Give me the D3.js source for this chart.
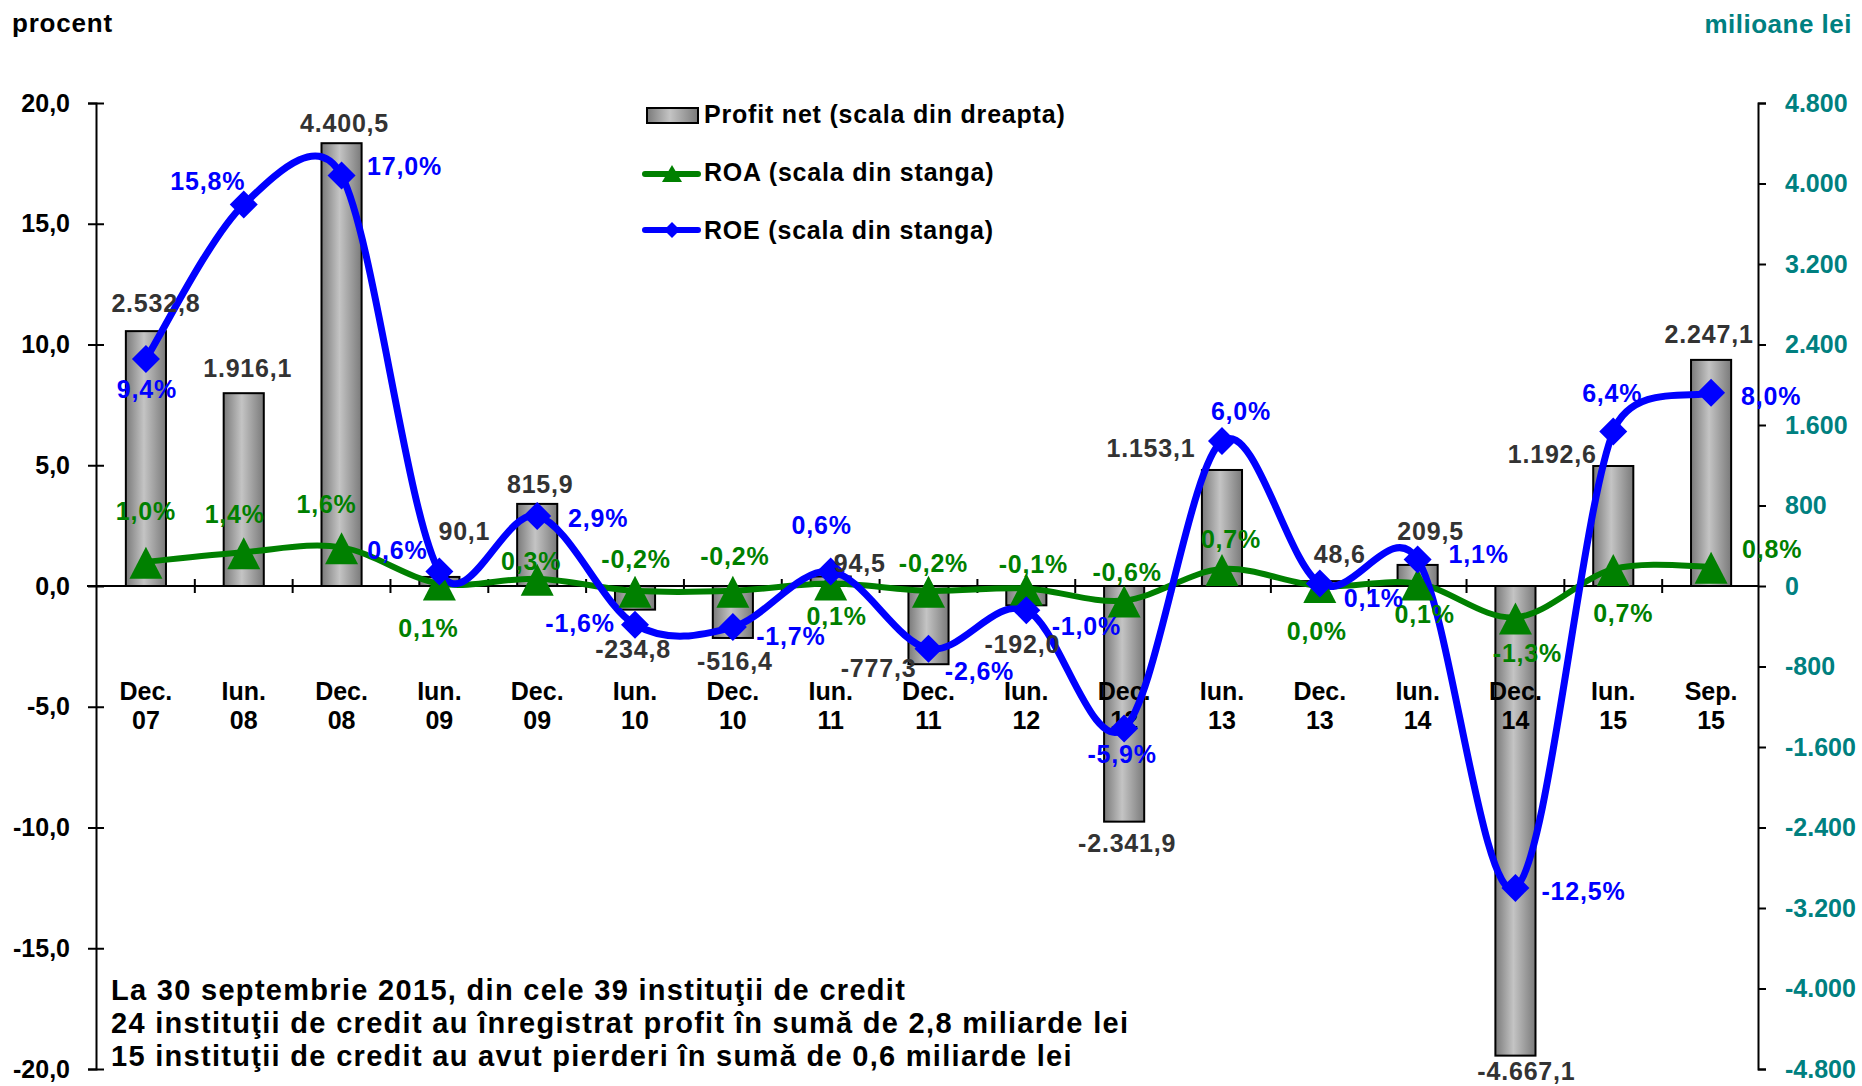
<!DOCTYPE html>
<html>
<head>
<meta charset="utf-8">
<style>
  body { margin: 0; background: #ffffff; }
  svg text { font-family: "Liberation Sans", Arial, sans-serif; font-weight: bold; }
</style>
</head>
<body>
<div id="chart"></div>
<script src="https://d3js.org/d3.v7.min.js"></script>
<script>
// data
var categories = ["Dec. 07", "Iun. 08", "Dec. 08", "Iun. 09", "Dec. 09", "Iun. 10", "Dec. 10", "Iun. 11", "Dec. 11",
                  "Iun. 12", "Dec. 12", "Iun. 13", "Dec. 13", "Iun. 14", "Dec. 14", "Iun. 15", "Sep. 15"];
var profitNet = [2532.8, 1916.1, 4400.5, 90.1, 815.9, -234.8, -516.4, 94.5, -777.3,
                 -192.0, -2341.9, 1153.1, 48.6, 209.5, -4667.1, 1192.6, 2247.1];
var roa = [1.0, 1.4, 1.6, 0.1, 0.3, -0.2, -0.2, 0.1, -0.2, -0.1, -0.6, 0.7, 0.0, 0.1, -1.3, 0.7, 0.8];
var roe = [9.4, 15.8, 17.0, 0.6, 2.9, -1.6, -1.7, 0.6, -2.6, -1.0, -5.9, 6.0, 0.1, 1.1, -12.5, 6.4, 8.0];
var leftTicks = [-20, -15, -10, -5, 0, 5, 10, 15, 20];
var rightTicks = [-4800, -4000, -3200, -2400, -1600, -800, 0, 800, 1600, 2400, 3200, 4000, 4800];
var noteLines = [
  "La 30 septembrie 2015, din cele 39 instituţii de credit",
  "24 instituţii de credit au înregistrat profit în sumă de 2,8 miliarde lei",
  "15 instituţii de credit au avut pierderi în sumă de 0,6 miliarde lei"
];

// label placement (dx, dy of the text from its point), as in the original
var profitLabelOffset = [[10,-19],[4,-16],[3,-11],[25,-37],[3,-11],[-2,48],[2,32],[29,-4],[-50,13],
                         [-4,48],[3,30],[-71,-13],[20,-18],[13,-25],[11,24],[-61,-3],[-2,-17]];
var roeLabelOffset = [[1,39],[-36,-14],[63,0],[-42,-13],[61,11],[-55,7],[58,18],[-9,-38],[51,31],
                      [60,25],[-2,35],[19,-21],[54,23],[61,4],[68,12],[-1,-29],[60,12]];
var roaLabelOffset = [[0,-42],[-9,-29],[-15,-34],[-11,53],[-6,-9],[1,-23],[2,-26],[6,41],[5,-19],
                      [7,-15],[3,-19],[9,-21],[-3,54],[7,39],[12,45],[10,53],[61,-9]];

var W = 1862, H = 1086;
var plotLeft = 97, plotRight = 1760, plotTop = 103, plotBottom = 1069;

var ro = d3.formatLocale({decimal: ",", thousands: ".", grouping: [3], currency: ["", ""], minus: "-"});
var f1 = ro.format(",.1f"), f0 = ro.format(",.0f");

// smoothed line the way the spreadsheet draws it: bezier with 1/6 tangents,
// control arm never longer than half of the segment
function smoothCurve(context) {
  var pts;
  function ctrl(p, dx, dy, seg, sign) {
    dx /= 6; dy /= 6;
    var len = Math.hypot(dx, dy), lim = 0.5 * seg;
    if (len > lim) { dx *= lim / len; dy *= lim / len; }
    return [p[0] + sign * dx, p[1] + sign * dy];
  }
  return {
    areaStart: function() {}, areaEnd: function() {},
    lineStart: function() { pts = []; },
    point: function(x, y) { pts.push([+x, +y]); },
    lineEnd: function() {
      var n = pts.length;
      if (!n) return;
      context.moveTo(pts[0][0], pts[0][1]);
      for (var i = 0; i < n - 1; i++) {
        var p0 = pts[Math.max(i - 1, 0)], p1 = pts[i], p2 = pts[i + 1], p3 = pts[Math.min(i + 2, n - 1)];
        var seg = Math.hypot(p2[0] - p1[0], p2[1] - p1[1]);
        var c1 = ctrl(p1, p2[0] - p0[0], p2[1] - p0[1], seg, 1);
        var c2 = ctrl(p2, p3[0] - p1[0], p3[1] - p1[1], seg, -1);
        context.bezierCurveTo(c1[0], c1[1], c2[0], c2[1], p2[0], p2[1]);
      }
    }
  };
}

var svg = d3.select("#chart").append("svg")
    .attr("width", W).attr("height", H)
    .style("background", "#ffffff");

var defs = svg.append("defs");
var grad = defs.append("linearGradient").attr("id", "barGrad")
    .attr("x1", 0).attr("x2", 1).attr("y1", 0).attr("y2", 0);
grad.selectAll("stop")
  .data([{o: "0%", c: "#7a7a7a"}, {o: "45%", c: "#c4c4c4"}, {o: "100%", c: "#7a7a7a"}])
  .enter().append("stop")
    .attr("offset", function(d) { return d.o; })
    .attr("stop-color", function(d) { return d.c; });

var x = d3.scaleBand().domain(categories)
    .range([plotLeft, plotRight])
    .paddingInner(0.59).paddingOuter(0.295);
var cx = function(i) { return x(categories[i]) + x.bandwidth() / 2; };

var yL = d3.scaleLinear().domain([-20, 20]).range([plotBottom, plotTop]);
var yR = d3.scaleLinear().domain([-4800, 4800]).range([plotBottom, plotTop]);

// bars (right scale)
svg.append("g").selectAll("rect")
  .data(profitNet)
  .enter().append("rect")
    .attr("x", function(d, i) { return x(categories[i]); })
    .attr("width", x.bandwidth())
    .attr("y", function(d) { return yR(Math.max(0, d)); })
    .attr("height", function(d) { return Math.abs(yR(d) - yR(0)); })
    .attr("fill", "url(#barGrad)")
    .attr("stroke", "#000")
    .attr("stroke-width", 2);

// left axis
var axL = svg.append("g")
    .attr("transform", "translate(" + (plotLeft - 1) + ",0)")
    .call(d3.axisLeft(yL).tickValues(leftTicks).tickFormat(f1).tickSize(8).tickPadding(18));
axL.select(".domain").attr("stroke", "#000").attr("stroke-width", 2);
axL.selectAll(".tick line").attr("x1", 8).attr("x2", -8).attr("stroke-width", 2);
axL.selectAll(".tick text").attr("font-size", 25).attr("fill", "#000")
    .style("font-family", "'Liberation Sans', Arial, sans-serif").style("font-weight", "bold");

// right axis
var axR = svg.append("g")
    .attr("transform", "translate(" + (plotRight - 2) + ",0)")
    .call(d3.axisRight(yR).tickValues(rightTicks).tickFormat(f0).tickSize(8).tickPadding(19));
axR.select(".domain").attr("stroke", "#000").attr("stroke-width", 2);
axR.selectAll(".tick line").attr("stroke-width", 2);
axR.selectAll(".tick text").attr("font-size", 25).attr("fill", "#008080")
    .style("font-family", "'Liberation Sans', Arial, sans-serif").style("font-weight", "bold");

// category axis at zero
var y0 = yL(0);
svg.append("line")
    .attr("x1", plotLeft - 10).attr("x2", plotRight - 2)
    .attr("y1", y0).attr("y2", y0)
    .attr("stroke", "#000").attr("stroke-width", 2);
svg.append("g").selectAll("line")
  .data(categories.slice(1))
  .enter().append("line")
    .attr("x1", function(d) { return x(d) - x.step() * x.paddingInner() / 2; })
    .attr("x2", function(d) { return x(d) - x.step() * x.paddingInner() / 2; })
    .attr("y1", y0 - 7).attr("y2", y0 + 7)
    .attr("stroke", "#000").attr("stroke-width", 2);

var catLbl = svg.append("g").selectAll("text")
  .data(categories)
  .enter().append("text")
    .attr("text-anchor", "middle")
    .attr("font-size", 25)
    .attr("fill", "#000");
catLbl.append("tspan")
    .attr("x", function(d) { return x(d) + x.bandwidth() / 2; })
    .attr("y", y0 + 114)
    .text(function(d) { return d.split(" ")[0]; });
catLbl.append("tspan")
    .attr("x", function(d) { return x(d) + x.bandwidth() / 2; })
    .attr("y", y0 + 143)
    .text(function(d) { return d.split(" ")[1]; });

// lines (left scale)
var smooth = d3.line()
    .x(function(d, i) { return cx(i); })
    .y(function(d) { return yL(d); })
    .curve(smoothCurve);

svg.append("path").datum(roa)
    .attr("d", smooth).attr("fill", "none")
    .attr("stroke", "#008000").attr("stroke-width", 6);
svg.append("path").datum(roe)
    .attr("d", smooth).attr("fill", "none")
    .attr("stroke", "#0000ff").attr("stroke-width", 7);

var triPath = "M0,-15L16.5,17L-16.5,17Z";
var diaPath = "M0,-14L14,0L0,14L-14,0Z";

svg.append("g").selectAll("path")
  .data(roa)
  .enter().append("path")
    .attr("d", triPath)
    .attr("transform", function(d, i) { return "translate(" + cx(i) + "," + yL(d) + ")"; })
    .attr("fill", "#008000");
svg.append("g").selectAll("path")
  .data(roe)
  .enter().append("path")
    .attr("d", diaPath)
    .attr("transform", function(d, i) { return "translate(" + cx(i) + "," + yL(d) + ")"; })
    .attr("fill", "#0000ff");

// data labels
svg.append("g").selectAll("text")
  .data(profitNet)
  .enter().append("text")
    .attr("x", function(d, i) { return cx(i) + profitLabelOffset[i][0]; })
    .attr("y", function(d, i) { return yR(d) + profitLabelOffset[i][1]; })
    .attr("text-anchor", "middle").attr("font-size", 25)
    .style("letter-spacing", "0.8px")
    .attr("fill", "#333333")
    .text(function(d) { return f1(d); });
svg.append("g").selectAll("text")
  .data(roa)
  .enter().append("text")
    .attr("x", function(d, i) { return cx(i) + roaLabelOffset[i][0]; })
    .attr("y", function(d, i) { return yL(d) + roaLabelOffset[i][1]; })
    .attr("text-anchor", "middle").attr("font-size", 25)
    .style("letter-spacing", "0.8px")
    .attr("fill", "#008000")
    .text(function(d) { return f1(d) + "%"; });
svg.append("g").selectAll("text")
  .data(roe)
  .enter().append("text")
    .attr("x", function(d, i) { return cx(i) + roeLabelOffset[i][0]; })
    .attr("y", function(d, i) { return yL(d) + roeLabelOffset[i][1]; })
    .attr("text-anchor", "middle").attr("font-size", 25)
    .style("letter-spacing", "0.8px")
    .attr("fill", "#0000ff")
    .text(function(d) { return f1(d) + "%"; });

// unit titles
svg.append("text").attr("x", 12).attr("y", 32)
    .attr("font-size", 26).style("letter-spacing", "0.8px")
    .attr("fill", "#000").text("procent");
svg.append("text").attr("x", 1852).attr("y", 33)
    .attr("text-anchor", "end")
    .attr("font-size", 26).style("letter-spacing", "0.5px")
    .attr("fill", "#008080").text("milioane lei");

// legend
var leg = svg.append("g");
leg.append("rect").attr("x", 647).attr("y", 108).attr("width", 51).attr("height", 15)
    .attr("fill", "url(#barGrad)").attr("stroke", "#000").attr("stroke-width", 2);
leg.append("line").attr("x1", 645).attr("x2", 698).attr("y1", 174).attr("y2", 174)
    .attr("stroke", "#008000").attr("stroke-width", 6).attr("stroke-linecap", "round");
leg.append("path").attr("d", "M0,-10L10,7L-10,7Z")
    .attr("transform", "translate(672,175)").attr("fill", "#008000");
leg.append("line").attr("x1", 645).attr("x2", 698).attr("y1", 230).attr("y2", 230)
    .attr("stroke", "#0000ff").attr("stroke-width", 6).attr("stroke-linecap", "round");
leg.append("path").attr("d", "M0,-8L8,0L0,8L-8,0Z")
    .attr("transform", "translate(672,230)").attr("fill", "#0000ff");
var legText = ["Profit net (scala din dreapta)", "ROA (scala din stanga)", "ROE (scala din stanga)"];
leg.selectAll("text")
  .data(legText)
  .enter().append("text")
    .attr("x", 704)
    .attr("y", function(d, i) { return 123 + i * 58; })
    .attr("font-size", 25).style("letter-spacing", "0.8px")
    .attr("fill", "#000")
    .text(function(d) { return d; });

// note
svg.append("g").selectAll("text")
  .data(noteLines)
  .enter().append("text")
    .attr("x", 111)
    .attr("y", function(d, i) { return 1000 + i * 33; })
    .attr("font-size", 29).style("letter-spacing", "1.3px")
    .attr("fill", "#000")
    .text(function(d) { return d; });
</script>
</body>
</html>
